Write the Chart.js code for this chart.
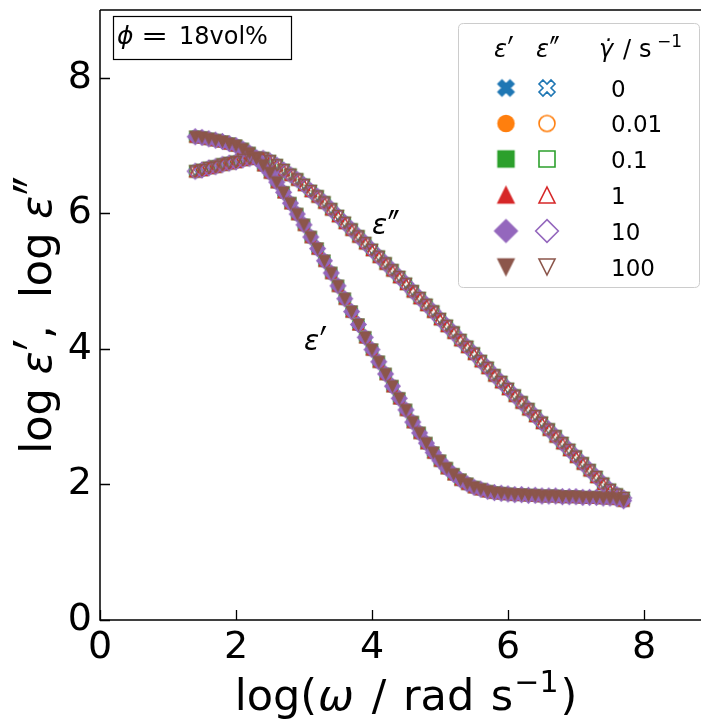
<!DOCTYPE html>
<html><head><meta charset="utf-8">
<script src="https://cdn.jsdelivr.net/npm/chart.js@4.4.0/dist/chart.umd.min.js"></script>
<style>html,body{margin:0;padding:0;overflow:hidden;background:#fff;width:701px;height:724px}canvas{display:block}</style>
</head><body><canvas id="c" width="730" height="724" style="width:730px;height:724px"></canvas>
<script>
// ---- data ----
const logOmega = [1.4,1.5,1.6,1.7,1.8,1.9,2.0,2.1,2.2,2.3,2.4,2.5,2.6,2.7,2.8,2.9,3.0,3.1,3.2,3.3,3.4,3.5,3.6,3.7,3.8,3.9,4.0,4.1,4.2,4.3,4.4,4.5,4.6,4.7,4.8,4.9,5.0,5.1,5.2,5.3,5.4,5.5,5.6,5.7,5.8,5.9,6.0,6.1,6.2,6.3,6.4,6.5,6.6,6.7,6.8,6.9,7.0,7.1,7.2,7.3,7.4,7.5,7.6,7.7];
const logEpsReal = [7.13,7.12,7.10,7.08,7.06,7.03,7.00,6.95,6.89,6.81,6.71,6.60,6.46,6.31,6.15,5.99,5.83,5.65,5.48,5.30,5.12,4.93,4.74,4.55,4.36,4.17,3.99,3.81,3.63,3.45,3.27,3.10,2.92,2.76,2.61,2.47,2.35,2.24,2.15,2.07,2.01,1.96,1.93,1.90,1.88,1.87,1.86,1.85,1.85,1.84,1.84,1.83,1.83,1.83,1.82,1.82,1.82,1.81,1.81,1.81,1.80,1.80,1.79,1.76];
const logEpsImag = [6.62,6.64,6.67,6.69,6.72,6.74,6.76,6.79,6.81,6.82,6.81,6.77,6.71,6.64,6.57,6.50,6.42,6.33,6.25,6.16,6.06,5.96,5.86,5.76,5.66,5.56,5.46,5.36,5.26,5.16,5.06,4.96,4.85,4.75,4.65,4.55,4.44,4.34,4.24,4.13,4.03,3.93,3.82,3.72,3.61,3.51,3.41,3.31,3.21,3.11,3.01,2.91,2.81,2.71,2.61,2.51,2.41,2.31,2.21,2.11,2.01,1.92,1.85,1.80];
const shearRates = ['0','0.01','0.1','1','10','100'];
const xTickValues = [0,2,4,6,8];
const yTickValues = [0,2,4,6,8];

// ---- styles ----
const seriesColors = ['#1f77b4','#ff7f0e','#2ca02c','#d62728','#9467bd','#8c564b'];
const markerShapes = ['X','o','s','^','D','v'];
const FONT = '"DejaVu Sans", sans-serif';

function markerPath(g, shape, ms, cx, cy){
  const h = ms/2;
  g.beginPath();
  if(shape==='o'){ g.arc(cx,cy,h,0,Math.PI*2); }
  else if(shape==='s'){ g.rect(cx-h,cy-h,ms,ms); }
  else if(shape==='^'){ g.moveTo(cx,cy-h); g.lineTo(cx+h,cy+h); g.lineTo(cx-h,cy+h); g.closePath(); }
  else if(shape==='v'){ g.moveTo(cx,cy+h); g.lineTo(cx+h,cy-h); g.lineTo(cx-h,cy-h); g.closePath(); }
  else if(shape==='D'){ const d=ms*Math.SQRT1_2; g.moveTo(cx,cy-d); g.lineTo(cx+d,cy); g.lineTo(cx,cy+d); g.lineTo(cx-d,cy); g.closePath(); }
  else if(shape==='X'){
    const P=[[-1,-2],[0,-1],[1,-2],[2,-1],[1,0],[2,1],[1,2],[0,1],[-1,2],[-2,1],[-1,0],[-2,-1]];
    P.forEach((p,i)=>{const x=cx+p[0]/4*ms, y=cy+p[1]/4*ms; if(i) g.lineTo(x,y); else g.moveTo(x,y);});
    g.closePath();
  }
}
function makeMarker(shape, ms, color, filled, lw){
  const S = Math.ceil(ms*1.5 + lw*2 + 2);
  const c = document.createElement('canvas'); c.width=S; c.height=S;
  const g = c.getContext('2d');
  markerPath(g, shape, ms, S/2, S/2);
  if(filled){ g.fillStyle=color; g.fill(); }
  g.lineWidth=lw; g.strokeStyle=color; g.lineJoin='miter'; g.stroke();
  return c;
}

function fontStr(p){ return (p.italic?'italic ':'') + p.size + 'px ' + FONT; }
function drawRich(ctx, parts, x, y, align, rot){
  ctx.save(); ctx.translate(x,y); if(rot) ctx.rotate(rot);
  let W=0; for(const p of parts){ ctx.font=fontStr(p); W += ctx.measureText(p.t).width*(p.sx||1) + (p.gap||0); }
  let cx = align==='center' ? -W/2 : (align==='right' ? -W : 0);
  ctx.textBaseline='alphabetic'; ctx.textAlign='left'; ctx.fillStyle='#000';
  for(const p of parts){
    ctx.font=fontStr(p);
    ctx.save(); ctx.translate(cx, p.dy||0); ctx.scale(p.sx||1, p.sy||1);
    ctx.fillText(p.t, 0, 0); ctx.restore();
    cx += ctx.measureText(p.t).width*(p.sx||1) + (p.gap||0);
  }
  ctx.restore();
}
// epsilon with prime(s), mathtext-like (prime stretched to mimic mathtext superscript prime)
function epsParts(size, primes){
  return [
    {t:'ε', size:size, italic:true, gap:size*0.02},
    {t:primes, size:size, italic:false, sx:1.15, sy:1.8, dy:size*0.43}
  ];
}

// ---- datasets ----
const datasets = [];
let drawIdx = 0;
shearRates.forEach((rate, i) => {
  const col = seriesColors[i], shp = markerShapes[i];
  datasets.push({
    label: "ε′ " + rate,
    data: logOmega.map((x,k)=>({x:x, y:logEpsReal[k]})),
    pointStyle: makeMarker(shp, 11, col, true, 1.2),
    pointRadius: 5, borderWidth: 0, showLine:false,
    order: 100 - (drawIdx++)
  });
  datasets.push({
    label: "ε″ " + rate,
    data: logOmega.map((x,k)=>({x:x, y:logEpsImag[k]})),
    pointStyle: makeMarker(shp, 11, col, false, 1.4),
    pointRadius: 5, borderWidth: 0, showLine:false,
    order: 100 - (drawIdx++)
  });
});

const decor = {
  id:'decor',
  beforeDraw(chart){
    const ctx=chart.ctx; ctx.save(); ctx.fillStyle='#fff'; ctx.fillRect(0,0,chart.width,chart.height); ctx.restore();
  },
  afterDraw(chart){
    const ctx=chart.ctx, a=chart.chartArea, xs=chart.scales.x, ys=chart.scales.y;
    ctx.save();
    // spines
    ctx.strokeStyle='#000'; ctx.lineWidth=1.5;
    ctx.beginPath();
    ctx.moveTo(a.left, a.top); ctx.lineTo(a.right, a.top);
    ctx.moveTo(a.left, a.top); ctx.lineTo(a.left, a.bottom);
    ctx.lineTo(a.right, a.bottom); ctx.lineTo(a.right, a.top);
    ctx.stroke();
    // inward ticks
    ctx.lineWidth=1.3;
    ctx.beginPath();
    xTickValues.forEach(v=>{const px=Math.round(xs.getPixelForValue(v))+0.5; ctx.moveTo(px,a.bottom); ctx.lineTo(px,a.bottom-10);});
    yTickValues.forEach(v=>{const py=Math.round(ys.getPixelForValue(v))+0.5; ctx.moveTo(a.left,py); ctx.lineTo(a.left+10,py);});
    ctx.stroke();

    // axis titles
    drawRich(ctx, [
      {t:'log(', size:43, gap:1},
      {t:'ω', size:43, italic:true, gap:4},
      {t:' /', size:43, gap:3},
      {t:' rad', size:43, gap:3},
      {t:' s', size:43, gap:1},
      {t:'−1', size:30, dy:-18, gap:2},
      {t:')', size:43}
    ], (a.left+a.right)/2, 710, 'center');
    drawRich(ctx, [
      {t:'log ', size:43},
      ...epsParts(43,'′'),
      {t:',  log ', size:43},
      ...epsParts(43,'″')
    ], 51, (a.top+a.bottom)/2, 'center', -Math.PI/2);

    // phi box
    ctx.strokeStyle='#000'; ctx.lineWidth=1.2;
    ctx.strokeRect(113.5,16.5,178,43);
    drawRich(ctx, [{t:'ϕ', size:25, italic:true}], 117, 44, 'left');
    drawRich(ctx, [{t:'=', size:25, sx:1.3}], 141, 44, 'left');
    drawRich(ctx, [{t:'18vol%', size:24}], 179, 44, 'left');

    // curve annotations
    drawRich(ctx, epsParts(28,'″'), 372, 234, 'left');
    drawRich(ctx, epsParts(28,'′'), 304, 350, 'left');

    // legend
    const lx=458.5, ly=23.5, lw=241, lh=264, r=5;
    ctx.beginPath();
    ctx.moveTo(lx+r,ly); ctx.lineTo(lx+lw-r,ly); ctx.quadraticCurveTo(lx+lw,ly,lx+lw,ly+r);
    ctx.lineTo(lx+lw,ly+lh-r); ctx.quadraticCurveTo(lx+lw,ly+lh,lx+lw-r,ly+lh);
    ctx.lineTo(lx+r,ly+lh); ctx.quadraticCurveTo(lx,ly+lh,lx,ly+lh-r);
    ctx.lineTo(lx,ly+r); ctx.quadraticCurveTo(lx,ly,lx+r,ly); ctx.closePath();
    ctx.fillStyle='rgba(255,255,255,0.8)'; ctx.fill();
    ctx.strokeStyle='#cccccc'; ctx.lineWidth=1; ctx.stroke();

    drawRich(ctx, epsParts(24,'′'), 494, 57, 'left');
    drawRich(ctx, epsParts(24,'″'), 536, 57, 'left');
    drawRich(ctx, [{t:'γ̇', size:24, italic:true}], 599, 57, 'left');
    drawRich(ctx, [{t:'/', size:24}], 623, 57, 'left');
    drawRich(ctx, [{t:'s', size:24}], 639, 57, 'left');
    drawRich(ctx, [{t:'−1', size:17}], 657, 47, 'left');

    const rowY=[88,123.5,159,195,231,267];
    shearRates.forEach((rate,i)=>{
      const f = makeMarker(markerShapes[i], 16, seriesColors[i], true, 1.5);
      const o = makeMarker(markerShapes[i], 16, seriesColors[i], false, 1.6);
      ctx.drawImage(f, 506 - f.width/2, rowY[i] - f.height/2);
      ctx.drawImage(o, 547 - o.width/2, rowY[i] - o.height/2);
      ctx.font = '23px ' + FONT; ctx.fillStyle='#000'; ctx.textAlign='left'; ctx.textBaseline='alphabetic';
      ctx.fillText(rate, 611, rowY[i] + 8.5);
    });
    ctx.restore();
  }
};

function zeroPad(s){ s.paddingTop=0; s.paddingBottom=0; s.paddingLeft=0; s.paddingRight=0; }

new Chart(document.getElementById('c'), {
  type: 'scatter',
  data: { datasets },
  options: {
    responsive:false, animation:false, devicePixelRatio:1,
    layout:{ padding:{ left:0, top:10, right:18, bottom:0 } },
    plugins:{ legend:{display:false}, tooltip:{enabled:false} },
    scales:{
      x:{ type:'linear', min:0, max:9,
        afterBuildTicks: s => { s.ticks = xTickValues.map(v=>({value:v})); },
        afterFit: s => { s.height = 104; zeroPad(s); },
        grid:{display:false}, border:{display:false},
        ticks:{ color:'#000', padding:1, maxRotation:0, autoSkip:false, font:{family:FONT, size:38, lineHeight:1}, callback:v=>String(v) }
      },
      y:{ type:'linear', min:0, max:9,
        afterBuildTicks: s => { s.ticks = yTickValues.map(v=>({value:v})); },
        afterFit: s => { s.width = 100; zeroPad(s); },
        grid:{display:false}, border:{display:false},
        ticks:{ color:'#000', padding:0, autoSkip:false, font:{family:FONT, size:38, lineHeight:1}, callback:v=>String(v) }
      }
    }
  },
  plugins:[decor]
});
</script>
</body></html>
